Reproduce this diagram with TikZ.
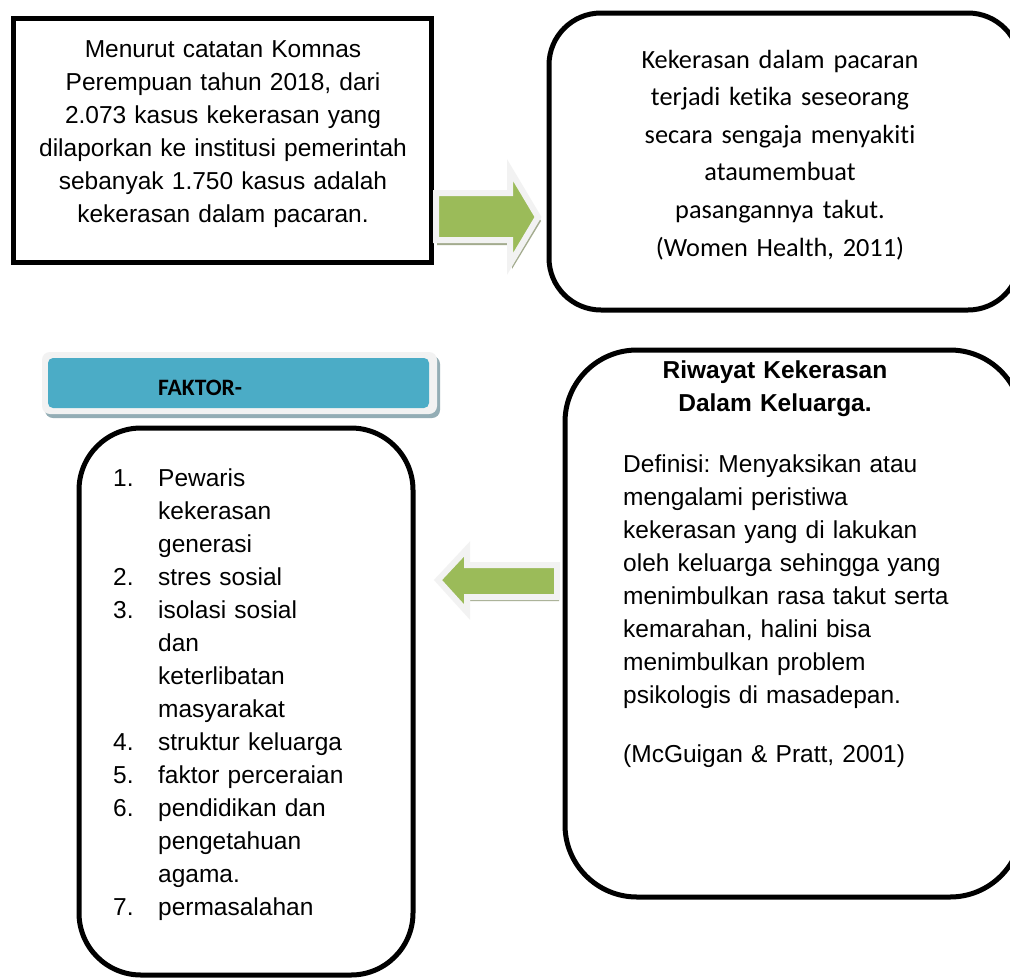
\documentclass[tikz,border=0pt]{standalone}
\usepackage{fontspec}
\newfontfamily\arialf{Liberation Sans}
\newfontfamily\calib[Ligatures=NoCommon]{Carlito}
\definecolor{agreen}{HTML}{9BBB59}
\definecolor{ablue}{HTML}{4BACC6}
\definecolor{edgegray}{HTML}{F2F2F2}
\definecolor{gshadow}{HTML}{A3AB8E}
\definecolor{bshadow}{HTML}{93ADB5}
\frenchspacing
\tikzset{
  boxline/.style={draw=black, line width=5pt, fill=none},
  arrowbody/.style={fill=agreen, draw=edgegray, line width=6pt, line join=miter},
  arialtxt/.style={inner sep=0pt, font=\arialf\fontsize{24.5}{33}\selectfont},
}
\begin{document}
\begin{tikzpicture}[x=1pt,y=-1pt]
\useasboundingbox (0,0) rectangle (1010,978);
\clip (0,0) rectangle (1010,978);
\fill[white] (0,0) rectangle (1010,978);

% box 1
\draw[boxline] (13,18) rectangle (431,262);
\node[arialtxt, text width=420pt, align=center, anchor=base] (t1) at (223,57.5)
 {Menurut catatan Komnas\\Perempuan tahun 2018, dari\\2.073 kasus kekerasan yang\\dilaporkan ke institusi pemerintah\\sebanyak 1.750 kasus adalah\\kekerasan dalam pacaran.};

% right arrow
\fill[gshadow] (437,197) -- (512,197) -- (512,174) -- (541,221) -- (512,269) -- (512,245) -- (437,245) -- cycle;
\draw[arrowbody] (436,193) -- (510,193) -- (510,170) -- (538,217) -- (510,264) -- (510,240) -- (436,240) -- cycle;

% box 2
\draw[boxline, rounded corners=52pt] (549,13) rectangle (1020,310);
\node[inner sep=0pt, font=\calib\fontsize{26.3}{37.6}\selectfont, text width=460pt, align=center, anchor=base] (t2) at (780,68)
 {Kekerasan dalam pacaran\\terjadi ketika seseorang\\secara sengaja menyakiti\\ataumembuat\\pasangannya takut.\\(Women Health, 2011)};

% FAKTOR header
\fill[bshadow, rounded corners=8pt] (45,356) rectangle (440,418);
\fill[edgegray, rounded corners=8pt] (42,352) rectangle (437,414);
\fill[ablue, rounded corners=5pt] (48,358) rectangle (429,408);
\node[inner sep=0pt, font=\calib\bfseries\fontsize{23.5}{28}\selectfont, anchor=base west] (fk) at (158,395) {FAKTOR-};

% list box
\draw[boxline, rounded corners=62pt] (79,428) rectangle (413,975);
\node[arialtxt, text width=300pt, align=left, anchor=base west] (list) at (113,486)
 {\makebox[45pt][l]{1.}Pewaris\\
  \hspace*{45pt}kekerasan\\
  \hspace*{45pt}generasi\\
  \makebox[45pt][l]{2.}stres sosial\\
  \makebox[45pt][l]{3.}isolasi sosial\\
  \hspace*{45pt}dan\\
  \hspace*{45pt}keterlibatan\\
  \hspace*{45pt}masyarakat\\
  \makebox[45pt][l]{4.}struktur keluarga\\
  \makebox[45pt][l]{5.}faktor perceraian\\
  \makebox[45pt][l]{6.}pendidikan dan\\
  \hspace*{45pt}pengetahuan\\
  \hspace*{45pt}agama.\\
  \makebox[45pt][l]{7.}permasalahan};

% left arrow
\fill[gshadow] (440,585) -- (469,553) -- (469,569) -- (559,569) -- (559,601) -- (469,601) -- (469,616) -- cycle;
\draw[arrowbody] (438,580) -- (467,549) -- (467,565) -- (557,565) -- (557,597) -- (467,597) -- (467,612) -- cycle;

% box 3
\draw[boxline, rounded corners=72pt] (565,350) rectangle (1022,897);
\node[inner sep=0pt, font=\arialf\bfseries\fontsize{24.5}{33.5}\selectfont, text width=400pt, align=center, anchor=base] (t3h) at (775,378)
 {Riwayat Kekerasan\\Dalam Keluarga.};
\node[arialtxt, text width=380pt, align=left, anchor=base west] (t3) at (623,472)
 {Definisi: Menyaksikan atau\\mengalami peristiwa\\kekerasan yang di lakukan\\oleh keluarga sehingga yang\\menimbulkan rasa takut serta\\kemarahan, halini bisa\\menimbulkan problem\\psikologis di masadepan.\\[26pt](McGuigan \& Pratt, 2001)};
\end{tikzpicture}
\end{document}
